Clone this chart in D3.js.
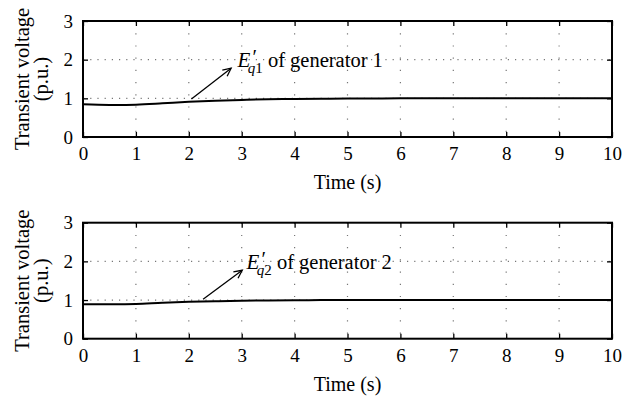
<!DOCTYPE html>
<html><head><meta charset="utf-8">
<script src="https://cdn.jsdelivr.net/npm/d3@7"></script>
<style>body{margin:0;background:#fff}svg{display:block}</style>
</head><body>
<svg id="c" width="638" height="403"></svg>
<script>
const timeS = [0,0.5,1,1.5,2,2.5,3,3.5,4,4.5,5,6,7,8,9,10];
const eq1 = [0.845,0.828,0.835,0.87,0.91,0.94,0.96,0.975,0.985,0.99,0.995,1.0,1.0,1.0,1.0,1.0];
const eq2 = [0.89,0.89,0.9,0.93,0.955,0.97,0.98,0.99,0.995,0.998,1.0,1.0,1.0,1.0,1.0,1.0];
const xTicks = [0,1,2,3,4,5,6,7,8,9,10];
const yTicks = [0,1,2,3];
const panels = [
  {values: eq1, sub: ["q","1"], label: " of generator 1", arrowFrom:[2.05,0.98], arrowTo:[2.8,1.78], textAt:[2.92,1.8]},
  {values: eq2, sub: ["q","2"], label: " of generator 2", arrowFrom:[2.27,1.02], arrowTo:[3.01,1.77], textAt:[3.09,1.8]}
];

const svg = d3.select("#c");
const FONT = "'Liberation Serif','Times New Roman',serif";
const L = 83, R = 612;
const tops = [21, 222.7], H = 116;

panels.forEach((p, i) => {
  const top = tops[i], bot = top + H;
  const x = d3.scaleLinear().domain([0,10]).range([L,R]);
  const y = d3.scaleLinear().domain([0,3]).range([bot, top]);
  const g = svg.append("g");

  // grid
  g.selectAll(".gx").data(xTicks.slice(1,-1)).enter().append("line")
    .attr("x1", d=>x(d)).attr("x2", d=>x(d)).attr("y1", top).attr("y2", bot)
    .attr("stroke", "#777").attr("stroke-width", 1.2).attr("stroke-dasharray", "1.2,11");
  g.selectAll(".gy").data([1,2]).enter().append("line")
    .attr("y1", d=>y(d)).attr("y2", d=>y(d)).attr("x1", L).attr("x2", R)
    .attr("stroke", "#777").attr("stroke-width", 1.2).attr("stroke-dasharray", "1.2,6");

  // data line
  const line = d3.line().x((d,j)=>x(timeS[j])).y(d=>y(d)).curve(d3.curveCatmullRom);
  g.append("path").datum(p.values).attr("d", line)
    .attr("fill","none").attr("stroke","#000").attr("stroke-width",2);

  // axes (inward ticks)
  const ax = d3.axisBottom(x).tickValues(xTicks).tickSizeInner(-5).tickSizeOuter(0).tickPadding(10).tickFormat(d3.format("d"));
  const axT = d3.axisTop(x).tickValues(xTicks).tickSizeInner(-5).tickSizeOuter(0).tickFormat("");
  const ay = d3.axisLeft(y).tickValues(yTicks).tickSizeInner(-5).tickSizeOuter(0).tickPadding(10).tickFormat(d3.format("d"));
  const ayR = d3.axisRight(y).tickValues(yTicks).tickSizeInner(-5).tickSizeOuter(0).tickFormat("");
  const gb = g.append("g").attr("transform",`translate(0,${bot})`).call(ax);
  const gt = g.append("g").attr("transform",`translate(0,${top})`).call(axT);
  const gl = g.append("g").attr("transform",`translate(${L},0)`).call(ay);
  const gr = g.append("g").attr("transform",`translate(${R},0)`).call(ayR);
  [gb,gt,gl,gr].forEach(a=>{
    a.select(".domain").remove();
    a.selectAll(".tick line").attr("stroke","#000").attr("stroke-width",1.3);
    a.selectAll("text").attr("font-family",FONT).attr("font-size",19).attr("fill","#000");
  });
  gb.selectAll("text").attr("dy","0.71em");
  // frame
  g.append("rect").attr("x",L).attr("y",top).attr("width",R-L).attr("height",H)
    .attr("fill","none").attr("stroke","#000").attr("stroke-width",2);

  // axis titles
  g.append("text").attr("x",(L+R)/2).attr("y",bot+52).attr("text-anchor","middle")
    .attr("font-family",FONT).attr("font-size",20).text("Time (s)");
  const yc = top + 58;
  g.append("text").attr("transform",`translate(29,${yc}) rotate(-90)`).attr("text-anchor","middle")
    .attr("font-family",FONT).attr("font-size",20.5).text("Transient voltage");
  g.append("text").attr("transform",`translate(48,${yc}) rotate(-90)`).attr("text-anchor","middle")
    .attr("font-family",FONT).attr("font-size",20.5).text("(p.u.)");

  // annotation arrow
  const [x0,y0] = [x(p.arrowFrom[0]), y(p.arrowFrom[1])];
  const [x1,y1] = [x(p.arrowTo[0]), y(p.arrowTo[1])];
  g.append("line").attr("x1",x0).attr("y1",y0).attr("x2",x1).attr("y2",y1)
    .attr("stroke","#000").attr("stroke-width",1.3);
  const ang = Math.atan2(y1-y0, x1-x0), hl = 9, ha = 0.45;
  g.append("path").attr("d",
    `M${x1-hl*Math.cos(ang-ha)},${y1-hl*Math.sin(ang-ha)}L${x1},${y1}L${x1-hl*Math.cos(ang+ha)},${y1-hl*Math.sin(ang+ha)}`)
    .attr("fill","none").attr("stroke","#000").attr("stroke-width",1.3);

  // annotation text (single text element with tspans)
  const tx = x(p.textAt[0]), ty = y(p.textAt[1]);
  const t = g.append("text").attr("x",tx).attr("y",ty).attr("font-family",FONT).attr("font-size",20.5)
    .style("white-space","pre");
  t.append("tspan").attr("font-style","italic").attr("font-size",21).text("E");
  t.append("tspan").attr("font-style","italic").attr("dx",1).attr("dy",-3).text("′");
  t.append("tspan").attr("font-style","italic").attr("font-size",15).attr("dx",-8).attr("dy",9).text(p.sub[0]);
  t.append("tspan").attr("font-size",15).text(p.sub[1]);
  t.append("tspan").attr("dy",-6).text(p.label);
});
</script>
</body></html>
